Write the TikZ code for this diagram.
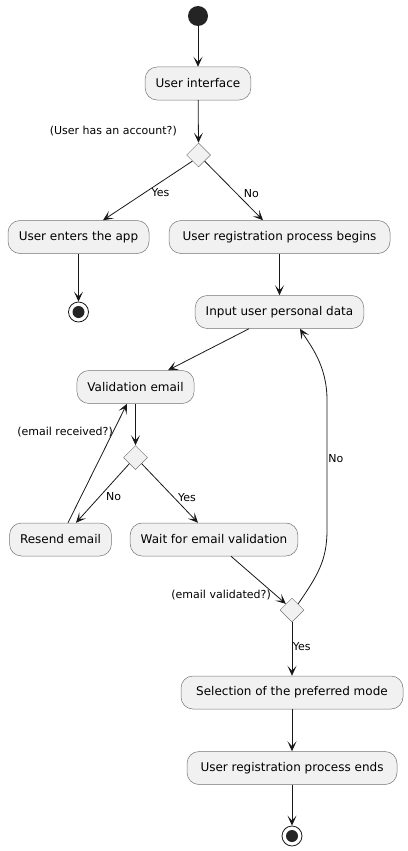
\documentclass[tikz,border=0pt]{standalone}
\usepackage{fontspec}
\setmainfont{DejaVu Sans}
\usetikzlibrary{shapes.geometric,arrows.meta,calc}

\definecolor{boxfill}{HTML}{F1F1F1}
\definecolor{lineclr}{HTML}{181818}

\begin{document}
\begin{tikzpicture}
		[x=1pt,y=-1pt,
		act/.style={shape=rectangle,rounded corners=12pt,draw=lineclr!60,fill=boxfill,
			line width=0.5pt,minimum height=33pt,inner xsep=10.5pt,font=\fontsize{12}{14}\selectfont},
		choice/.style={shape=diamond,draw=lineclr!60,fill=boxfill,line width=0.5pt,
			minimum size=24pt,inner sep=0pt},
		lbl/.style={font=\fontsize{11}{13}\selectfont,inner sep=0pt},
		flow/.style={-{Stealth[length=10pt,width=9pt,inset=5pt]},line width=0.8pt,draw=lineclr}]
		\useasboundingbox (0,0) rectangle (407,851);
		%% start and ends
		\node[circle,fill=lineclr!95,minimum size=20pt,inner sep=0pt] (start) at (198,16) {};
		\node[circle,draw=lineclr,line width=0.8pt,minimum size=20pt,inner sep=0pt] (stopA) at (78.5,312) {};
		\node[circle,fill=lineclr!95,minimum size=12pt,inner sep=0pt] at (stopA) {};
		\node[circle,draw=lineclr,line width=0.8pt,minimum size=20pt,inner sep=0pt] (stopB) at (292,836) {};
		\node[circle,fill=lineclr!95,minimum size=12pt,inner sep=0pt] at (stopB) {};
		%% activities
		\node[act] (ui) at (198,83.5) {User interface};
		\node[act,minimum width=141pt] (enter) at (78.5,237) {User enters the app};
		\node[act,minimum width=221pt] (register) at (279.5,237) {User registration process begins};
		\node[act,minimum width=167pt] (input) at (279.5,312) {Input user personal data};
		\node[act,minimum width=114pt] (valid) at (135.5,387) {Validation email};
		\node[act,minimum width=101pt] (resend) at (60.5,539.5) {Resend email};
		\node[act,minimum width=164pt] (wait) at (214,539.5) {Wait for email validation};
		\node[act,minimum width=222pt] (select) at (292,692.5) {Selection of the preferred mode};
		\node[act,minimum width=210pt] (ends) at (292,768) {User registration process ends};
		%% decisions
		\node[choice] (hasacc) at (198.5,155) {};
		\node[choice] (received) at (135.5,457.5) {};
		\node[choice] (validated) at (292,610) {};
		\node[lbl,anchor=east] (hasaccq) at (177,131) {(User has an account?)};
		\node[lbl,anchor=east] (receivedq) at (113,432) {(email received?)};
		\node[lbl,anchor=east] (validatedq) at (271,595) {(email validated?)};
		%%
		\draw[flow] (start) -- (ui);
		\draw[flow] (ui) -- (hasacc.north);
		\draw[flow] (hasacc.south west) -- node[lbl,pos=0.46,anchor=north west] {Yes} ([xshift=24.5pt]enter.north);
		\draw[flow] (hasacc.south east) -- node[lbl,pos=0.63,anchor=south west,xshift=2pt] {No} ([xshift=-16.5pt]register.north);
		\draw[flow] (enter) -- (stopA);
		\draw[flow] (register) -- (input);
		\draw[flow] ([xshift=-30.5pt]input.south) -- ([xshift=32.5pt]valid.north);
		\draw[flow] (valid) -- (received.north);
		\draw[flow] (received.south west) -- node[lbl,pos=0.48,anchor=north west,xshift=2pt] {No} ([xshift=15.5pt]resend.north);
		\draw[flow] (received.south east) -- node[lbl,pos=0.5,anchor=north west,xshift=8pt] {Yes} ([xshift=-16pt]wait.north);
		\draw[flow] ([xshift=7.5pt]resend.north) -- ([xshift=-8.5pt]valid.south);
		\draw[flow] ([xshift=17pt]wait.south) -- (validated.north west);
		\draw[flow] (validated.north east) .. controls (318,575) and (327,560) .. (327,530)
			-- node[lbl,pos=0.55,right=1pt] {No} (327,400)
			.. controls (327,365) and (310,345) .. ([xshift=20.5pt]input.south);
		\draw[flow] (validated.south) -- node[lbl,pos=0.45,right=0.5pt] {Yes} (select);
		\draw[flow] (select) -- (ends);
		\draw[flow] (ends) -- (stopB);
		\end{tikzpicture}
\end{document}
